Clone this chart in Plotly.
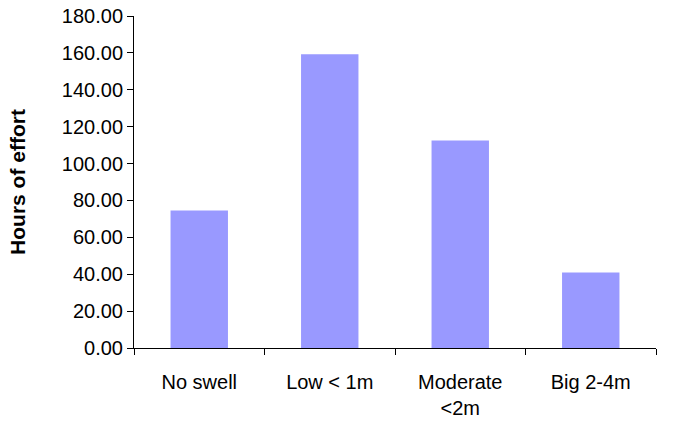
import plotly.graph_objects as go

categories = ["No swell", "Low &lt; 1m", "Moderate<br>&lt;2m", "Big 2-4m"]
hours = [74.6, 159.2, 112.5, 40.9]
y_tick_values = [0, 20, 40, 60, 80, 100, 120, 140, 160, 180]

fig = go.Figure(go.Bar(x=categories, y=hours, marker=dict(color="#9999FF", line=dict(width=0))))

font = "Liberation Sans, Arial, sans-serif"
fig.update_layout(
    width=698, height=425,
    margin=dict(l=134, r=42, t=16, b=77),
    paper_bgcolor="white", plot_bgcolor="white",
    bargap=0.56,
    showlegend=False,
    font=dict(family=font, size=20, color="black"),
)
fig.update_xaxes(
    showline=True, linecolor="black", linewidth=1,
    ticks="outside", tickson="boundaries", ticklen=6, tickcolor="black",
    showgrid=False, tickfont=dict(size=20), ticklabelstandoff=16,
    automargin=False,
)
fig.update_yaxes(
    range=[0, 180], tickvals=y_tick_values, tickformat=".2f",
    showline=True, linecolor="black", linewidth=1,
    ticks="outside", ticklen=6, tickcolor="black",
    showgrid=False, zeroline=False, tickfont=dict(size=20),
    title=dict(text="<b>Hours of effort</b>", font=dict(size=21), standoff=30),
    automargin=False,
)
fig.write_html("out.html")
